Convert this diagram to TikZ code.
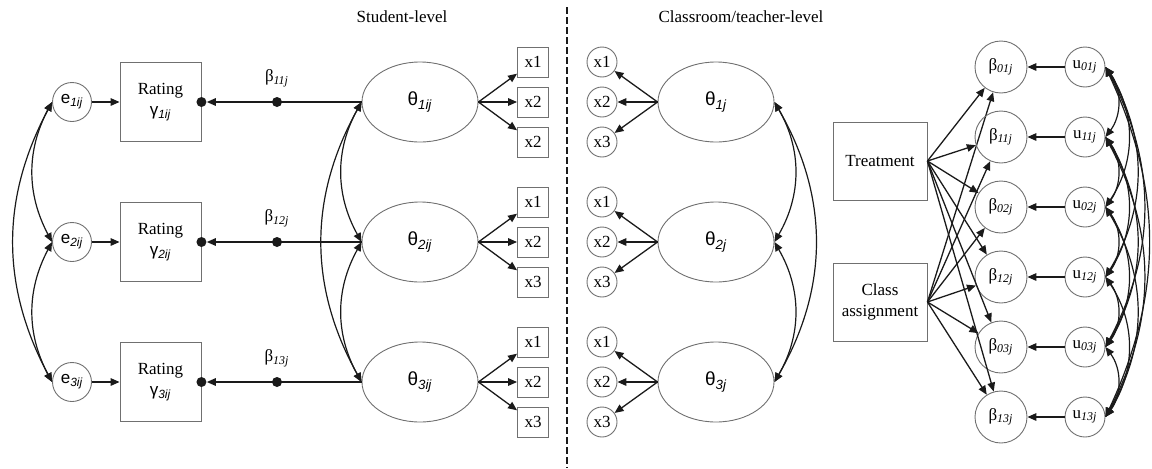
\documentclass[tikz,border=0pt]{standalone}
\usepackage{fontspec}
\setmainfont{Liberation Serif}
\newfontfamily\sansgr{Liberation Sans}
\usepackage{tikz}
\usetikzlibrary{arrows.meta,positioning,calc,shapes.geometric}
\definecolor{ink}{HTML}{1A1A1A}
\definecolor{edge}{HTML}{707070}
\newcommand{\subidx}[1]{\textsubscript{\itshape #1}}

\begin{document}
\begin{tikzpicture}[x=0.5pt,y=0.5pt,
  font=\fontsize{8.5}{10.5}\selectfont,
  rbox/.style={draw=edge,line width=0.45pt,minimum width=40.5pt,minimum height=39.5pt,align=center,inner sep=0pt},
  cbox/.style={draw=edge,line width=0.45pt,minimum width=47pt,minimum height=39pt,align=center,inner sep=0pt},
  xbox/.style={draw=edge,line width=0.45pt,minimum width=15.5pt,minimum height=15pt,inner sep=0pt},
  resid/.style={circle,draw=edge,line width=0.45pt,minimum size=19.5pt,inner sep=0pt},
  xcirc/.style={circle,draw=edge,line width=0.45pt,minimum size=15pt,inner sep=0pt},
  bcirc/.style={circle,draw=edge,line width=0.45pt,minimum size=26pt,inner sep=0pt},
  ucirc/.style={circle,draw=edge,line width=0.45pt,minimum size=20pt,inner sep=0pt},
  lat/.style={ellipse,draw=edge,line width=0.45pt,minimum width=58pt,minimum height=40pt,inner sep=0pt,font=\fontsize{9.5}{11}\selectfont\sansgr},
  bdot/.style={circle,fill=ink,minimum size=5pt,inner sep=0pt},
  arr/.style={-{Triangle[length=4.5pt,width=3.8pt]},color=ink,line width=0.65pt},
  cov/.style={{Triangle[length=4.5pt,width=3.8pt]}-{Triangle[length=4.5pt,width=3.8pt]},color=ink,line width=0.6pt},
  sep/.style={color=ink,line width=0.7pt,dash pattern=on 3.5pt off 1.5pt}]
  \useasboundingbox (0,0) rectangle (1152,468);

  \node (stud) at (402,451) {Student-level};
  \node (clsr) at (741,451) {Classroom/teacher-level};
  \coordinate (dtop) at (567,461);
  \coordinate (dbot) at (567,0);
  \draw[sep] (dtop) -- (dbot);

  \foreach \r/\Y/\last in {1/366/2,2/226/3,3/86/3}{
    \node[resid] (e\r) at (72,\Y) {\sansgr e\subidx{\r ij}};
    \node[rbox] (rat\r) at (160.5,\Y) {Rating\\{\sansgr γ\subidx{\r ij}}};
    \node[bdot] (rd\r) at (rat\r.east) {};
    \node[bdot] (bd\r) at (277,\Y) {};
    \node[above=1.5pt of bd\r] (bl\r) {β\subidx{1\r j}};
    \node[lat] (th\r) at (420,\Y) {θ\subidx{\r ij}};
    \node[xbox] (sx\r-1) at (533,\Y+40) {x1};
    \node[xbox] (sx\r-2) at (533,\Y) {x2};
    \node[xbox] (sx\r-3) at (533,\Y-40) {x\last};
    \node[lat] (ct\r) at (716,\Y) {θ\subidx{\r j}};
    \node[xcirc] (cx\r-1) at (602,\Y+40) {x1};
    \node[xcirc] (cx\r-2) at (602,\Y) {x2};
    \node[xcirc] (cx\r-3) at (602,\Y-40) {x3};
    \draw[arr] (e\r) -- (rat\r);
    \draw[arr] (th\r.west) -- (rd\r);
    \foreach \k in {1,2,3}{
      \draw[arr] (th\r.east) -- (sx\r-\k);
      \draw[arr] (ct\r.west) -- (cx\r-\k);
    }
  }

  \draw[cov] (e1.west) to[bend right=28] (e2.west);
  \draw[cov] (e2.west) to[bend right=28] (e3.west);
  \draw[cov] (e1.west) to[bend right=28] (e3.west);
  \draw[cov] (th1.west) to[bend right=29] (th2.west);
  \draw[cov] (th2.west) to[bend right=29] (th3.west);
  \draw[cov] (th1.west) to[bend right=29] (th3.west);
  \draw[cov] (ct1.east) to[bend left=30] (ct2.east);
  \draw[cov] (ct2.east) to[bend left=30] (ct3.east);
  \draw[cov] (ct1.east) to[bend left=30] (ct3.east);

  \node[cbox] (trt) at (880,307) {Treatment};
  \node[cbox] (cls) at (880,166) {Class\\assignment};

  \foreach \i/\lab/\Y in {1/01/401,2/11/331,3/02/261,4/12/191,5/03/121,6/13/51}{
    \node[bcirc] (b\i) at (1001,\Y) {β\subidx{\lab j}};
    \node[ucirc] (u\i) at (1085,\Y) {u\subidx{\lab j}};
    \draw[arr] (u\i) -- (b\i);
    \draw[arr] (trt.east) -- (b\i);
    \draw[arr] (cls.east) -- (b\i);
  }

  \foreach \i [evaluate=\i as \n using int(\i+1)] in {1,...,5}{
    \foreach \k [evaluate=\k as \ang using 40-3*(\k-\i)] in {\n,...,6}{
      \draw[cov] (u\i.east) to[bend left=\ang] (u\k.east);
    }
  }
\end{tikzpicture}
\end{document}
